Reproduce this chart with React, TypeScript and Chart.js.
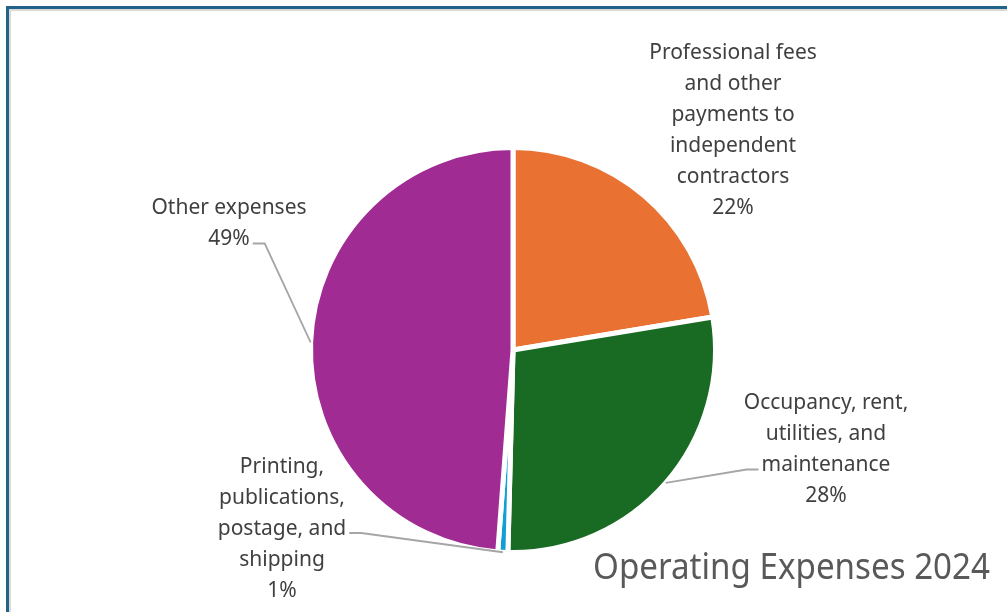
import React, { useEffect, useRef } from "react";
import { Chart, registerables } from "chart.js";
Chart.register(...registerables);

const categoryLines: string[][] = [
  ["Professional fees", "and other", "payments to", "independent", "contractors"],
  ["Occupancy, rent,", "utilities, and", "maintenance"],
  ["Printing,", "publications,", "postage, and", "shipping"],
  ["Other expenses"],
];
const categories = categoryLines.map((l) => l.join(" "));
const values = [22.4, 28.0, 0.8, 48.8];
const colors = ["#E97132", "#196B24", "#0F9ED5", "#A02B93"];
const chartTitle = "Operating Expenses 2024";

// label block centres, relative to pie centre, in units of radius
const labelCenters: [number, number][] = [
  [1.1, -1.095],
  [1.565, 0.5],
  [-1.155, 0.895],
  [-1.42, -0.63],
];
// leader line: [line index it attaches to, side (-1 left, 1 right)] or null
const leaders: ([number, number] | null)[] = [null, [2, -1], [2, 1], [1, 1]];

const LABEL_FONT = "21px 'Noto Sans', sans-serif";
const LINE_H = 31;

const labelPlugin = {
  id: "pieLabels",
  afterDraw(chart: any) {
    const ctx = chart.ctx as CanvasRenderingContext2D;
    const meta = chart.getDatasetMeta(0);
    const total = values.reduce((a, b) => a + b, 0);
    ctx.save();
    ctx.font = LABEL_FONT;
    ctx.textBaseline = "middle";
    ctx.textAlign = "center";
    meta.data.forEach((arc: any, i: number) => {
      const { x, y, startAngle, endAngle, outerRadius } = arc.getProps(
        ["x", "y", "startAngle", "endAngle", "outerRadius"],
        true
      );
      const R = 200;
      const lines = [...categoryLines[i], Math.round((values[i] / total) * 100) + "%"];
      const cx = x + labelCenters[i][0] * R;
      const cy = y + labelCenters[i][1] * R;
      const y0 = cy - ((lines.length - 1) * LINE_H) / 2;
      ctx.fillStyle = "#404040";
      lines.forEach((t, k) => ctx.fillText(t, cx, y0 + k * LINE_H));
      const ld = leaders[i];
      if (ld) {
        const [li, side] = ld;
        const w = ctx.measureText(lines[li]).width;
        const ly = y0 + li * LINE_H + 4;
        const lx = cx + side * (w / 2 + 3);
        const lx2 = lx + side * 12;
        const mid = (startAngle + endAngle) / 2;
        const px = x + Math.cos(mid) * outerRadius;
        const py = y + Math.sin(mid) * outerRadius;
        ctx.strokeStyle = "#A6A6A6";
        ctx.lineWidth = 1.8;
        ctx.beginPath();
        ctx.moveTo(lx, ly);
        ctx.lineTo(lx2, ly);
        ctx.lineTo(px, py);
        ctx.stroke();
      }
    });
    // title at bottom right
    ctx.font = "36px 'Noto Sans', sans-serif";
    ctx.fillStyle = "#595959";
    ctx.textAlign = "left";
    const tw = ctx.measureText(chartTitle).width;
    const target = 397;
    const k = target / tw;
    ctx.translate(593, 569);
    ctx.scale(k, 1);
    ctx.fillText(chartTitle, 0, 0);
    ctx.restore();
  },
};

export default function App() {
  const ref = useRef<HTMLCanvasElement>(null);
  useEffect(() => {
    if (!ref.current) return;
    const chart = new Chart(ref.current, {
      type: "pie",
      data: {
        labels: categories,
        datasets: [
          {
            data: values,
            backgroundColor: colors,
            borderColor: "#ffffff",
            borderWidth: 5,
          },
        ],
      },
      options: {
        responsive: false,
        animation: false,
        layout: { padding: { left: 308, right: 289, top: 145, bottom: 57 } },
        plugins: {
          legend: { display: false },
          tooltip: { enabled: false },
          title: { display: false },
        },
      },
      plugins: [labelPlugin],
    });
    return () => chart.destroy();
  }, []);
  return (
    <div
      style={{
        position: "fixed",
        left: 0,
        top: 0,
        width: 1007,
        height: 612,
        overflow: "hidden",
        background: "#ffffff",
      }}
    >
      <div
        style={{
          position: "absolute",
          left: 6,
          top: 6,
          width: 1100,
          height: 700,
          border: "3px solid #22638A",
          boxShadow: "inset 2px 2px 0 0 #D9D9D9",
        }}
      />
      <canvas
        ref={ref}
        width={1007}
        height={612}
        style={{ position: "absolute", left: 0, top: 0, width: 1007, height: 612 }}
      />
    </div>
  );
}
